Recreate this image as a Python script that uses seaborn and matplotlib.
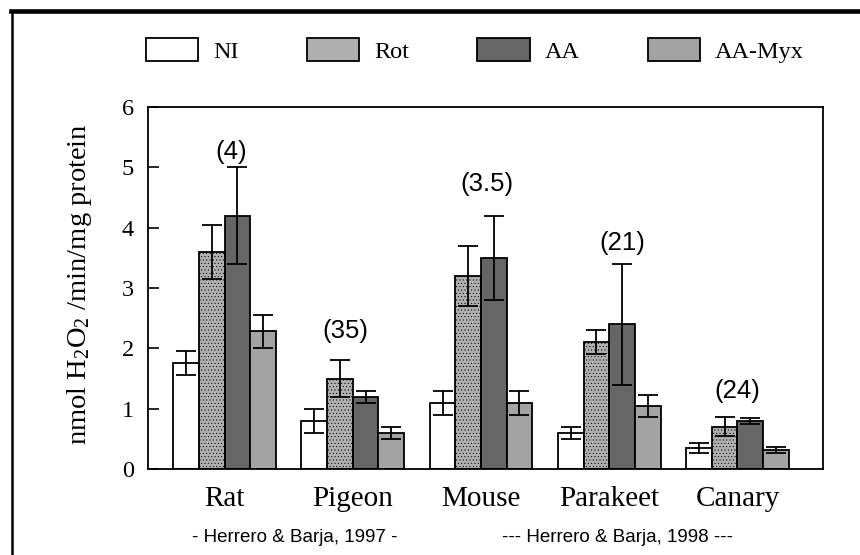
import matplotlib
matplotlib.use("Agg")
import matplotlib.pyplot as plt
from matplotlib.lines import Line2D
import seaborn as sns
import pandas as pd
import numpy as np

# ---- data ----
species = ["Rat", "Pigeon", "Mouse", "Parakeet", "Canary"]
treatments = ["NI", "Rot", "AA", "AA-Myx"]
ni_mean = [1.75, 0.80, 1.10, 0.60, 0.35]
ni_err = [0.20, 0.20, 0.20, 0.10, 0.08]
rot_mean = [3.60, 1.50, 3.20, 2.10, 0.70]
rot_err = [0.45, 0.30, 0.50, 0.20, 0.16]
aa_mean = [4.20, 1.20, 3.50, 2.40, 0.80]
aa_err = [0.80, 0.10, 0.70, 1.00, 0.05]
myx_mean = [2.28, 0.60, 1.10, 1.05, 0.31]
myx_err = [0.27, 0.10, 0.20, 0.18, 0.05]
annot_labels = ["(4)", "(35)", "(3.5)", "(21)", "(24)"]
annot_x = [0.05, 0.94, 2.05, 3.10, 4.00]
annot_y = [5.25, 2.29, 4.72, 3.75, 1.29]
ref_labels = ["- Herrero & Barja, 1997 -", "--- Herrero & Barja, 1998 ---"]

means = {"NI": ni_mean, "Rot": rot_mean, "AA": aa_mean, "AA-Myx": myx_mean}
errs = {"NI": ni_err, "Rot": rot_err, "AA": aa_err, "AA-Myx": myx_err}

rows = []
for t in treatments:
    for s, m, e in zip(species, means[t], errs[t]):
        rows.append({"species": s, "treatment": t, "value": m, "err": e})
df = pd.DataFrame(rows)

plt.rcParams["hatch.linewidth"] = 0.35
plt.rcParams["mathtext.fontset"] = "custom"
plt.rcParams["mathtext.rm"] = "Liberation Serif"
plt.rcParams["mathtext.it"] = "Liberation Serif:italic"

serif = "Liberation Serif"
sans = "Liberation Sans"

palette = {"NI": "#ffffff", "Rot": "#b0b0b0", "AA": "#666666", "AA-Myx": "#a3a3a3"}

fig = plt.figure(figsize=(8.6, 5.55), dpi=100)
ax = fig.add_axes([148 / 860, 86 / 555, 675 / 860, 362 / 555])

sns.barplot(data=df, x="species", y="value", hue="treatment", order=species,
            hue_order=treatments, palette=palette, errorbar=None,
            edgecolor="black", linewidth=1.3, saturation=1, ax=ax, legend=True)

for cont, t in zip(ax.containers, treatments):
    xs = [b.get_x() + b.get_width() / 2 for b in cont]
    ys = [b.get_height() for b in cont]
    if t == "Rot":
        for b in cont:
            b.set_hatch(".....")
    ax.errorbar(xs, ys, yerr=errs[t], fmt="none", ecolor="black",
                elinewidth=1.3, capsize=7, capthick=1.3, zorder=5)

ax.set_ylim(0, 6)
ax.set_xlim(-0.597, 4.667)
ax.set_yticks(range(0, 7))
ax.tick_params(axis="y", direction="in", length=8, width=1.2, labelsize=17.5, pad=10)
ax.tick_params(axis="x", length=0, labelsize=21, pad=12)
for lab in ax.get_yticklabels() + ax.get_xticklabels():
    lab.set_fontfamily(serif)
for sp in ax.spines.values():
    sp.set_linewidth(1.3)

ax.set_xlabel("")
ax.set_ylabel("nmol H$_2$O$_2$ /min/mg protein", fontsize=20.5, fontfamily=serif)
ax.yaxis.set_label_coords(-0.08, 0.51)

for lab, x, y in zip(annot_labels, annot_x, annot_y):
    ax.text(x, y, lab, ha="center", va="center", fontsize=18.5, fontfamily=sans)

fig.text(295 / 860, 1 - 538 / 555, ref_labels[0], ha="center", va="center",
         fontsize=13.5, fontfamily=sans)
fig.text(617 / 860, 1 - 538 / 555, ref_labels[1], ha="center", va="center",
         fontsize=13.5, fontfamily=sans)

handles, labels = ax.get_legend_handles_labels()
ax.get_legend().remove()
leg = fig.legend(handles, labels, loc="center left",
                 bbox_to_anchor=(146 / 860, 1 - 50.5 / 555), ncol=4,
                 frameon=False, borderpad=0, borderaxespad=0,
                 handlelength=2.15, handleheight=1.1, handletextpad=0.62,
                 columnspacing=2.8, prop={"family": serif, "size": 17.5})

# figure frame lines (top and left)
fig.add_artist(Line2D([11 / 860, 1], [1 - 10.5 / 555, 1 - 10.5 / 555],
                      color="black", lw=3.3, transform=fig.transFigure))
fig.add_artist(Line2D([12 / 860, 12 / 860], [0, 1 - 10.5 / 555],
                      color="black", lw=1.8, transform=fig.transFigure))

fig.savefig("out.png", dpi=100)
